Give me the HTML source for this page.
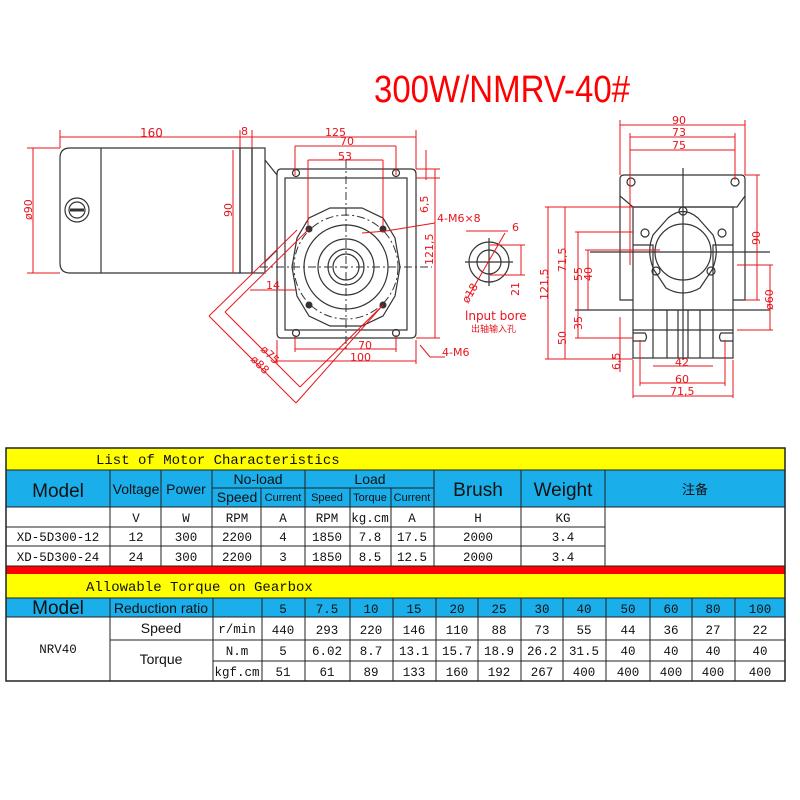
<!DOCTYPE html>
<html><head><meta charset="utf-8"><style>
html,body{margin:0;padding:0;background:#fff;width:800px;height:800px;overflow:hidden}
svg{display:block}
.r{stroke:#e8141c;fill:none;stroke-width:1}
.k{stroke:#333;fill:none;stroke-width:1.2}
.d{font-family:"DejaVu Sans",sans-serif;font-size:11px;fill:#e8141c}
.m{font-family:"Liberation Mono",monospace;font-size:12.5px;fill:#111;text-anchor:middle}
.h{font-family:"Liberation Sans",sans-serif;fill:#111;text-anchor:middle}
</style></head><body>
<svg width="800" height="800" viewBox="0 0 800 800" xmlns="http://www.w3.org/2000/svg">
<text x="374" y="102" font-family="Liberation Sans,sans-serif" font-size="38" fill="#f00" textLength="256" lengthAdjust="spacingAndGlyphs">300W/NMRV-40#</text>

<!-- motor -->
<path class="k" d="M70 148 H240 V273 H70 Q60 273 60 263 V158 Q60 148 70 148 Z"/>
<line class="k" x1="101" y1="148" x2="101" y2="273"/>
<circle class="k" cx="77" cy="210" r="12"/><circle class="k" cx="77" cy="210" r="8"/>
<line x1="70" y1="210" x2="84" y2="210" stroke="#333" stroke-width="3"/>
<rect class="k" x="240" y="148" width="12" height="125"/>
<rect class="k" x="252" y="148" width="13" height="125"/>
<path class="k" d="M265 160 L277 175 M265 262 L277 250"/>
<!-- gearbox front -->
<path class="k" d="M281 169 H411 Q416 169 416 174 V333 Q416 338 411 338 H281 Q277 338 277 333 V174 Q277 169 281 169 Z"/>
<rect class="k" x="285" y="178" width="122" height="152"/>
<path class="k" d="M330 208 L362 208 L383 218 L395 238 L400 267 L395 296 L383 316 L362 326 L330 326 L309 316 L297 296 L292 267 L297 238 L309 218 Z"/>
<circle cx="346" cy="267" r="52" fill="none" stroke="#333" stroke-dasharray="8 3 2 3"/>
<circle class="k" cx="346" cy="267" r="42"/><circle class="k" cx="346" cy="267" r="28"/>
<circle class="k" cx="346" cy="267" r="18"/><circle class="k" cx="346" cy="267" r="13"/>
<g fill="#333"><circle cx="309" cy="229" r="3.5"/><circle cx="383" cy="229" r="3.5"/><circle cx="309" cy="305" r="3.5"/><circle cx="383" cy="305" r="3.5"/></g>
<g class="k"><circle cx="296" cy="173" r="3.5"/><circle cx="396" cy="173" r="3.5"/><circle cx="296" cy="333" r="3.5"/><circle cx="396" cy="333" r="3.5"/></g>
<line x1="346" y1="160" x2="346" y2="350" stroke="#333" stroke-dasharray="8 3 2 3"/>
<line x1="260" y1="267" x2="432" y2="267" stroke="#333" stroke-dasharray="8 3 2 3"/>
<!-- dims left -->
<g class="r">
<line x1="60" y1="137" x2="416" y2="137"/><line x1="60" y1="130" x2="60" y2="148"/><line x1="240" y1="130" x2="240" y2="148"/><line x1="252" y1="130" x2="252" y2="148"/><line x1="416" y1="130" x2="416" y2="169"/>
<line x1="295" y1="146" x2="396" y2="146"/><line x1="295" y1="146" x2="295" y2="175"/><line x1="396" y1="146" x2="396" y2="175"/>
<line x1="308" y1="160" x2="383" y2="160"/><line x1="308" y1="160" x2="308" y2="226"/><line x1="383" y1="160" x2="383" y2="226"/>
<line x1="33" y1="148" x2="33" y2="273"/><line x1="27" y1="148" x2="60" y2="148"/><line x1="27" y1="273" x2="60" y2="273"/>
<line x1="233" y1="150" x2="233" y2="273"/>
<line x1="426" y1="150" x2="426" y2="180"/><line x1="416" y1="169" x2="440" y2="169"/><line x1="416" y1="178" x2="440" y2="178"/>
<line x1="435" y1="169" x2="435" y2="338"/><line x1="416" y1="338" x2="440" y2="338"/>
<line x1="295" y1="349" x2="396" y2="349"/><line x1="295" y1="335" x2="295" y2="352"/><line x1="396" y1="335" x2="396" y2="352"/>
<line x1="277" y1="361" x2="416" y2="361"/><line x1="277" y1="340" x2="277" y2="364"/><line x1="416" y1="340" x2="416" y2="364"/>
<line x1="250" y1="290" x2="297" y2="290"/>
<line x1="386" y1="231" x2="435" y2="223"/><line x1="362" y1="233" x2="386" y2="231"/>
<line x1="420" y1="345" x2="430" y2="357"/><line x1="430" y1="357" x2="445" y2="357"/>
<line x1="209" y1="316" x2="297" y2="230"/><line x1="209" y1="316" x2="296" y2="403"/><line x1="296" y1="403" x2="383" y2="305"/>
<line x1="225" y1="312" x2="309" y2="229"/><line x1="225" y1="312" x2="300" y2="387"/><line x1="300" y1="387" x2="383" y2="305"/>
</g>
<text class="d" x="140" y="137" style="font-size:12px">160</text>
<text class="d" x="241" y="135">8</text>
<text class="d" x="325" y="136">125</text>
<text class="d" x="340" y="145">70</text>
<text class="d" x="338" y="160">53</text>
<text class="d" transform="translate(32,220) rotate(-90)">ø90</text>
<text class="d" transform="translate(232,217) rotate(-90)">90</text>
<text class="d" transform="translate(428,213) rotate(-90)">6,5</text>
<text class="d" transform="translate(433,265) rotate(-90)">121,5</text>
<text class="d" x="437" y="222">4-M6×8</text>
<text class="d" x="266" y="289">14</text>
<text class="d" x="358" y="349">70</text>
<text class="d" x="350" y="361">100</text>
<text class="d" x="442" y="356">4-M6</text>
<text class="d" transform="translate(260,350) rotate(45)">ø75</text>
<text class="d" transform="translate(250,360) rotate(45)">ø88</text>
<!-- input bore -->
<circle class="k" cx="489" cy="262" r="20"/><circle class="k" cx="489" cy="262" r="12"/>
<line class="k" x1="465" y1="262" x2="513" y2="262"/><line class="k" x1="489" y1="238" x2="489" y2="286"/>
<g class="r"><line x1="466" y1="231" x2="508" y2="231"/><line x1="468" y1="297" x2="505" y2="233"/><line x1="490" y1="245" x2="525" y2="245"/><line x1="490" y1="275" x2="525" y2="275"/><line x1="521" y1="245" x2="521" y2="275"/></g>
<text class="d" x="512" y="231">6</text>
<text class="d" transform="translate(519,296) rotate(-90)">21</text>
<text class="d" transform="translate(468,304) rotate(-60)">ø18</text>
<text class="d" x="465" y="320" style="font-size:12px">lnput bore</text>
<text x="471" y="332" font-family="Noto Sans CJK SC,sans-serif" font-size="9" fill="#e8141c">出轴输入孔</text>
<!-- right view -->
<path class="k" d="M624 175 H741 Q745 175 745 179 V196 L737 207 H633 L620 196 V179 Q620 175 624 175 Z"/>
<path class="k" d="M620 196 V300 H633 M745 196 V300 H733"/>
<rect class="k" x="633" y="207" width="100" height="151"/>
<path class="k" d="M633 245 H653 V330 M733 245 H713 V330 M633 330 H733"/>
<path class="k" d="M653 310 H713 M653 330 V358 M713 330 V358"/>
<path class="k" d="M633 333 H645 Q648 337 645 341 H633 M733 333 H721 Q718 337 721 341 H733"/>
<circle class="k" cx="683" cy="252" r="28"/>
<path class="k" d="M668 218 Q683 205 698 218 L713 235 Q720 252 712 270 L700 288 Q683 298 666 288 L654 270 Q646 252 653 235 Z"/>
<g class="k"><circle cx="683" cy="211" r="4"/><circle cx="645" cy="233" r="4"/><circle cx="722" cy="233" r="4"/><circle cx="656" cy="271" r="4"/><circle cx="711" cy="271" r="4"/><circle cx="631" cy="182" r="4"/><circle cx="735" cy="182" r="4"/></g>
<path class="k" d="M667 310 V358 M678 310 V358 M688 310 V358 M700 310 V358"/>
<line class="k" x1="683" y1="168" x2="683" y2="360"/>
<line class="k" x1="590" y1="252" x2="770" y2="252"/><line class="k" x1="575" y1="310" x2="770" y2="310"/>
<g class="r">
<line x1="620" y1="125" x2="745" y2="125"/><line x1="620" y1="120" x2="620" y2="175"/><line x1="745" y1="120" x2="745" y2="175"/>
<line x1="630" y1="137" x2="735" y2="137"/><line x1="630" y1="150" x2="735" y2="150"/><line x1="630" y1="133" x2="630" y2="265"/><line x1="735" y1="133" x2="735" y2="180"/>
<line x1="545" y1="207" x2="633" y2="207"/><line x1="545" y1="359" x2="633" y2="359"/><line x1="548" y1="207" x2="548" y2="359"/>
<line x1="565" y1="207" x2="565" y2="359"/><line x1="578" y1="232" x2="578" y2="310"/><line x1="588" y1="250" x2="588" y2="310"/>
<line x1="575" y1="232" x2="633" y2="232"/><line x1="585" y1="250" x2="660" y2="250"/>
<line x1="578" y1="310" x2="578" y2="338"/><line x1="575" y1="338" x2="633" y2="338"/>
<line x1="620" y1="317" x2="620" y2="372"/>
<line x1="745" y1="175" x2="760" y2="175"/><line x1="757" y1="175" x2="757" y2="300"/><line x1="745" y1="300" x2="760" y2="300"/>
<line x1="737" y1="265" x2="773" y2="265"/><line x1="737" y1="330" x2="773" y2="330"/><line x1="770" y1="265" x2="770" y2="330"/>
<line x1="653" y1="366" x2="713" y2="366"/><line x1="640" y1="383" x2="725" y2="383"/><line x1="633" y1="396" x2="733" y2="396"/>
<line x1="640" y1="340" x2="640" y2="386"/><line x1="725" y1="340" x2="725" y2="386"/><line x1="633" y1="360" x2="633" y2="398"/><line x1="733" y1="360" x2="733" y2="398"/>
</g>
<text class="d" x="672" y="124">90</text><text class="d" x="672" y="136">73</text><text class="d" x="672" y="149">75</text>
<text class="d" transform="translate(566,272) rotate(-90)">71,5</text>
<text class="d" transform="translate(548,300) rotate(-90)">121,5</text>
<text class="d" transform="translate(582,281) rotate(-90)">55</text>
<text class="d" transform="translate(592,281) rotate(-90)">40</text>
<text class="d" transform="translate(582,330) rotate(-90)">35</text>
<text class="d" transform="translate(566,345) rotate(-90)">50</text>
<text class="d" transform="translate(620,370) rotate(-90)">6,5</text>
<text class="d" transform="translate(760,245) rotate(-90)">90</text>
<text class="d" transform="translate(773,310) rotate(-90)">ø60</text>
<text class="d" x="675" y="366">42</text><text class="d" x="675" y="383">60</text><text class="d" x="670" y="395">71,5</text>

<!-- motor table -->
<rect x="6" y="448" width="779" height="22" fill="#ffff00"/>
<rect x="6" y="470" width="779" height="37" fill="#1aaeea"/>
<rect x="6" y="566" width="779" height="8" fill="#ff0000"/>
<rect x="6" y="574" width="779" height="24" fill="#ffff00"/>
<rect x="6" y="598" width="779" height="19" fill="#1aaeea"/>
<g stroke="#222" stroke-width="1" fill="none">
<rect x="6" y="448" width="779" height="233" stroke-width="1.5"/>
<line x1="6" y1="470" x2="785" y2="470"/><line x1="212" y1="488" x2="434" y2="488"/>
<line x1="6" y1="507" x2="785" y2="507"/><line x1="6" y1="527" x2="605" y2="527"/><line x1="6" y1="546" x2="605" y2="546"/>
<line x1="6" y1="566" x2="785" y2="566"/><line x1="6" y1="598" x2="785" y2="598"/><line x1="6" y1="617" x2="785" y2="617"/>
<line x1="110" y1="640" x2="785" y2="640"/><line x1="213" y1="661" x2="785" y2="661"/>
<path d="M110 470V566M161 470V566M212 470V566M261 488V566M305 470V566M350 488V566M391 488V566M434 470V566M521 470V566M605 470V566"/>
<path d="M110 598V681M213 598V681M262 598V681M305 598V681M350 598V681M393 598V681M436 598V681M478 598V681M521 598V681M563 598V681M606 598V681M650 598V681M692 598V681M735 598V681"/>
</g>
<text x="96" y="464" font-family="Liberation Mono,monospace" font-size="14" fill="#111">List of Motor Characteristics</text>
<text x="86" y="591" font-family="Liberation Mono,monospace" font-size="14" fill="#111">Allowable Torque on Gearbox</text>
<g class="h">
<text x="58" y="497" font-size="19">Model</text>
<text x="136" y="494" font-size="14">Voltage</text><text x="186" y="494" font-size="14">Power</text>
<text x="258" y="484" font-size="14">No-load</text><text x="370" y="484" font-size="14">Load</text>
<text x="237" y="502" font-size="14">Speed</text><text x="283" y="501" font-size="11">Current</text>
<text x="327" y="501" font-size="11">Speed</text><text x="370" y="501" font-size="11">Torque</text><text x="412" y="501" font-size="11">Current</text>
<text x="478" y="496" font-size="19">Brush</text><text x="563" y="496" font-size="19">Weight</text>
<text x="695" y="494" font-size="13" font-family="Noto Sans CJK SC,sans-serif">注备</text>
<text x="58" y="614" font-size="19">Model</text><text x="161" y="613" font-size="14">Reduction ratio</text>
<text x="161" y="633" font-size="14">Speed</text><text x="161" y="664" font-size="14">Torque</text>
</g>
<g class="m">
<text x="136" y="522">V</text><text x="186" y="522">W</text><text x="237" y="522">RPM</text><text x="283" y="522">A</text><text x="327" y="522">RPM</text><text x="370" y="522">kg.cm</text><text x="412" y="522">A</text><text x="478" y="522">H</text><text x="563" y="522">KG</text>
<text x="58" y="541">XD-5D300-12</text><text x="136" y="541">12</text><text x="186" y="541">300</text><text x="237" y="541">2200</text><text x="283" y="541">4</text><text x="327" y="541">1850</text><text x="370" y="541">7.8</text><text x="412" y="541">17.5</text><text x="478" y="541">2000</text><text x="563" y="541">3.4</text>
<text x="58" y="561">XD-5D300-24</text><text x="136" y="561">24</text><text x="186" y="561">300</text><text x="237" y="561">2200</text><text x="283" y="561">3</text><text x="327" y="561">1850</text><text x="370" y="561">8.5</text><text x="412" y="561">12.5</text><text x="478" y="561">2000</text><text x="563" y="561">3.4</text>
<text x="58" y="653">NRV40</text>
<text x="237" y="633">r/min</text><text x="237" y="655">N.m</text><text x="237" y="676">kgf.cm</text>
</g>
<g class="m">
<text x="283" y="613">5</text><text x="327" y="613">7.5</text><text x="371" y="613">10</text><text x="414" y="613">15</text><text x="457" y="613">20</text><text x="499" y="613">25</text><text x="542" y="613">30</text><text x="584" y="613">40</text><text x="628" y="613">50</text><text x="671" y="613">60</text><text x="713" y="613">80</text><text x="760" y="613">100</text>
<text x="283" y="634">440</text><text x="327" y="634">293</text><text x="371" y="634">220</text><text x="414" y="634">146</text><text x="457" y="634">110</text><text x="499" y="634">88</text><text x="542" y="634">73</text><text x="584" y="634">55</text><text x="628" y="634">44</text><text x="671" y="634">36</text><text x="713" y="634">27</text><text x="760" y="634">22</text>
<text x="283" y="655">5</text><text x="327" y="655">6.02</text><text x="371" y="655">8.7</text><text x="414" y="655">13.1</text><text x="457" y="655">15.7</text><text x="499" y="655">18.9</text><text x="542" y="655">26.2</text><text x="584" y="655">31.5</text><text x="628" y="655">40</text><text x="671" y="655">40</text><text x="713" y="655">40</text><text x="760" y="655">40</text>
<text x="283" y="676">51</text><text x="327" y="676">61</text><text x="371" y="676">89</text><text x="414" y="676">133</text><text x="457" y="676">160</text><text x="499" y="676">192</text><text x="542" y="676">267</text><text x="584" y="676">400</text><text x="628" y="676">400</text><text x="671" y="676">400</text><text x="713" y="676">400</text><text x="760" y="676">400</text>
</g>
</svg>
</body></html>
